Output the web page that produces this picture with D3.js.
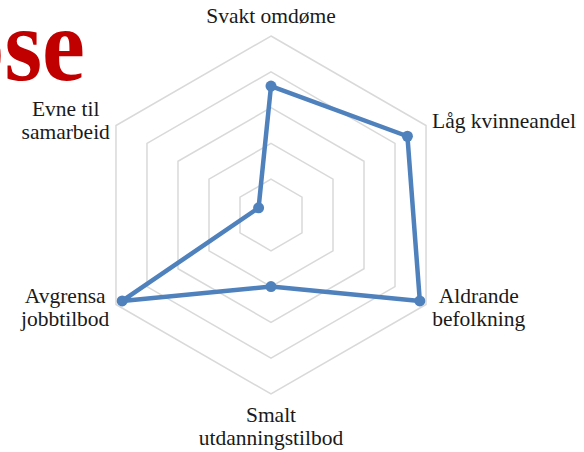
<!DOCTYPE html>
<meta charset="utf-8">
<style>
body { margin: 0; background: #fff; }
.axis-label { font: 21.5px "Liberation Serif", "Times New Roman", serif; fill: #1a1a1a; }
.title { font: bold 104px "Liberation Serif", "Times New Roman", serif; fill: #c00000; }
</style>
<svg width="584" height="452"></svg>
<script src="https://d3js.org/d3.v7.min.js"></script>
<script>

var categories = [
  ["Svakt omdøme"],
  ["Låg kvinneandel"],
  ["Aldrande", "befolkning"],
  ["Smalt", "utdanningstilbod"],
  ["Avgrensa", "jobbtilbod"],
  ["Evne til", "samarbeid"]
];
var values = [3.6, 4.4, 4.8, 2.0, 4.8, 0.4];
var levels = [1, 2, 3, 4, 5];

var svg = d3.select("svg"),
    cx = 271, cy = 215, R = 179;

// cut-off title from the slide behind
svg.append("text").attr("class", "title")
    .attr("text-anchor", "end")
    .attr("transform", "translate(85,80) scale(0.93,1)")
    .text("ose");

var r = d3.scaleLinear().domain([0, 5]).range([0, R]);
var angle = function(i) { return -Math.PI / 2 + i * 2 * Math.PI / categories.length; };

var g = svg.append("g").attr("transform", "translate(" + cx + "," + cy + ")");

var radial = d3.lineRadial()
    .angle(function(d, i) { return i * 2 * Math.PI / categories.length; })
    .radius(function(d) { return r(d); })
    .curve(d3.curveLinearClosed);

// grid
g.selectAll(".grid")
  .data(levels)
  .enter().append("path")
    .attr("class", "grid")
    .attr("d", function(l) { return radial(categories.map(function() { return l; })); })
    .attr("fill", "none")
    .attr("stroke", "#d9d9d9")
    .attr("stroke-width", 1.5);

// series
g.append("path")
    .attr("d", radial(values))
    .attr("fill", "none")
    .attr("stroke", "#4f81bd")
    .attr("stroke-width", 4.5)
    .attr("stroke-linejoin", "round");

g.selectAll(".dot")
  .data(values)
  .enter().append("circle")
    .attr("cx", function(d, i) { return r(d) * Math.cos(angle(i)); })
    .attr("cy", function(d, i) { return r(d) * Math.sin(angle(i)); })
    .attr("r", 5.5)
    .attr("fill", "#4f81bd");

// labels
var lh = 22.5;
categories.forEach(function(lines, i) {
  var a = angle(i),
      vx = R * Math.cos(a), vy = R * Math.sin(a);
  var t = g.append("text").attr("class", "axis-label").attr("text-anchor", "middle");
  lines.forEach(function(s, k) {
    t.append("tspan").attr("x", 0).attr("dy", k ? lh : 0).text(s);
  });
  var w = t.node().getBBox().width;
  var x, y;
  if (Math.abs(vx) < 1) {
    x = vx;
    y = vy < 0 ? vy - 13 - (lines.length - 1) * lh : vy + 28;
  } else {
    x = vx > 0 ? vx + 6 + w / 2 : vx - 6 - w / 2;
    var mid = vy < 0 ? vy - 5 : vy + 3;
    y = mid + 7 - (lines.length - 1) * lh / 2;
  }
  t.attr("transform", "translate(" + x + "," + y + ")");
});

</script>
